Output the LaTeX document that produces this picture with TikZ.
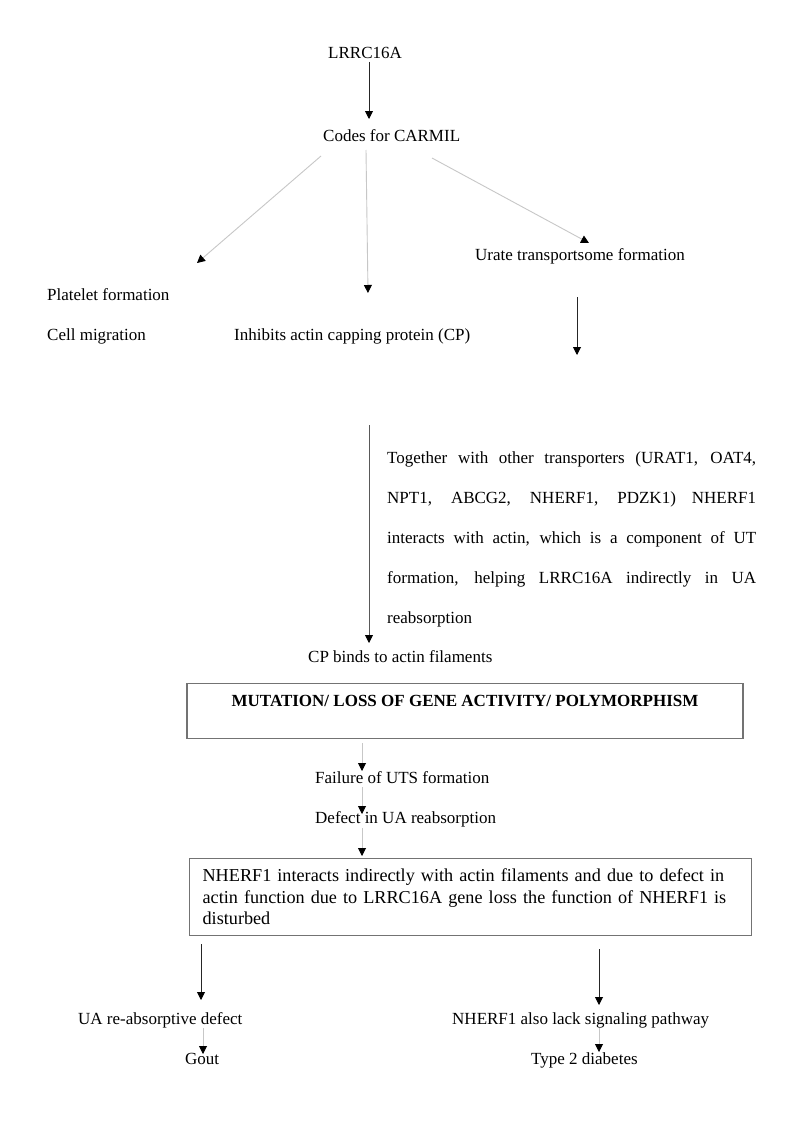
\documentclass[tikz,border=0pt]{standalone}
\usepackage{fontspec}
\setmainfont{Liberation Serif}
\usetikzlibrary{arrows.meta,calc}
\tolerance=10000
\hbadness=10000
\begin{document}
\begin{tikzpicture}[x=1pt,y=-1pt,
  txt/.style={inner sep=0pt, anchor=base west, font=\fontsize{17}{20}\selectfont},
  tipk/.style={-{Triangle[length=8pt,width=8pt,color=black]}},
  gline/.style={draw=black!22, line width=0.9pt, tipk},
  bline/.style={draw=black!85, line width=0.9pt, tipk},
  mline/.style={draw=black!65, line width=0.9pt, tipk},
  boxed/.style={draw=black!55, line width=1.2pt},
  parab/.style={inner sep=0pt, anchor=base west, text width=369pt, align=justify,
    font=\fontsize{17}{40}\selectfont}]
\useasboundingbox (0,0) rectangle (800,1132);
\fill[white] (0,0) rectangle (800,1132);

% nodes
\node[txt] (lrrc) at (328,59) {LRRC16A};
\node[txt] (codes) at (323,141) {Codes for CARMIL};
\node[txt] (plat) at (47,300) {Platelet formation};
\node[txt] (cell) at (47,340) {Cell migration};
\node[txt] (inhib) at (234,340) {Inhibits actin capping protein (CP)};
\node[txt] (urate) at (475,260) {Urate transportsome formation};
\coordinate (urend) at (577,355);
\node[parab] (para) at (387,463) {Together with other transporters (URAT1, OAT4,\linebreak
  NPT1, ABCG2, NHERF1, PDZK1) NHERF1\linebreak
  interacts with actin, which is a component of UT\linebreak
  formation, helping LRRC16A indirectly in UA\linebreak
  reabsorption};
\node[txt] (cp) at (308,662) {CP binds to actin filaments};
\node[boxed, anchor=north, inner xsep=0pt, inner ysep=0pt, minimum width=556pt,
  text height=23pt, text depth=32pt,
  font=\bfseries\fontsize{17}{20}\selectfont] (box1) at (465,683)
  {MUTATION/ LOSS OF GENE ACTIVITY/ POLYMORPHISM};
\node[txt] (fail) at (315,783) {Failure of UTS formation};
\node[txt] (defect) at (315,823) {Defect in UA reabsorption};
\node[boxed, anchor=north west, text width=536pt, inner xsep=13pt, inner ysep=10.5pt,
  align=left, font=\fontsize{18.2}{21.5}\selectfont] (box2) at (189,858)
  {NHERF1 interacts indirectly with actin filaments and due to defect in\\
   actin function due to LRRC16A gene loss the function of NHERF1 is\\
   disturbed};
\node[txt] (ua) at (78,1024) {UA re-absorptive defect};
\node[txt] (nherf) at (452,1024) {NHERF1 also lack signaling pathway};
\node[txt, anchor=base] (gout) at (202,1064) {Gout};
\node[txt] (t2d) at (531,1064) {Type 2 diabetes};

% connectors
\draw[bline] ($(lrrc.base west)+(41,3)$) -- ($(codes.base west)+(46,-22)$);
\draw[gline] ($(codes.base west)+(-2,15)$) -- ($(plat.base west)+(150,-37)$);
\draw[gline] ($(codes.base west)+(43,9)$) -- ($(inhib.base west)+(134,-47)$);
\draw[gline] ($(codes.base west)+(109,17)$) -- ($(urate.base west)+(114,-17)$);
\draw[bline] ($(urate.base west)+(102,37)$) -- (urend);
\draw[mline] ($(inhib.base west)+(135,85)$) -- ($(cp.base west)+(61,-19)$);
\draw[gline] ($(box1.south)+(-103,4)$) -- ($(fail.base west)+(47,-12)$);
\draw[gline] ($(fail.base west)+(47,4)$) -- ($(defect.base west)+(47,-9)$);
\draw[gline] ($(defect.base west)+(47,5)$) -- ($(box2.north west)+(173,-2)$);
\draw[bline] ($(box2.south west)+(12,8)$) -- ($(ua.base west)+(123,-24)$);
\draw[bline] ($(box2.south west)+(410,13)$) -- ($(nherf.base west)+(147,-19)$);
\draw[gline] ($(ua.base west)+(125,4)$) -- ($(gout.base)+(1,-10)$);
\draw[gline] ($(nherf.base west)+(147,4)$) -- ($(t2d.base west)+(68,-12)$);
\end{tikzpicture}
\end{document}
